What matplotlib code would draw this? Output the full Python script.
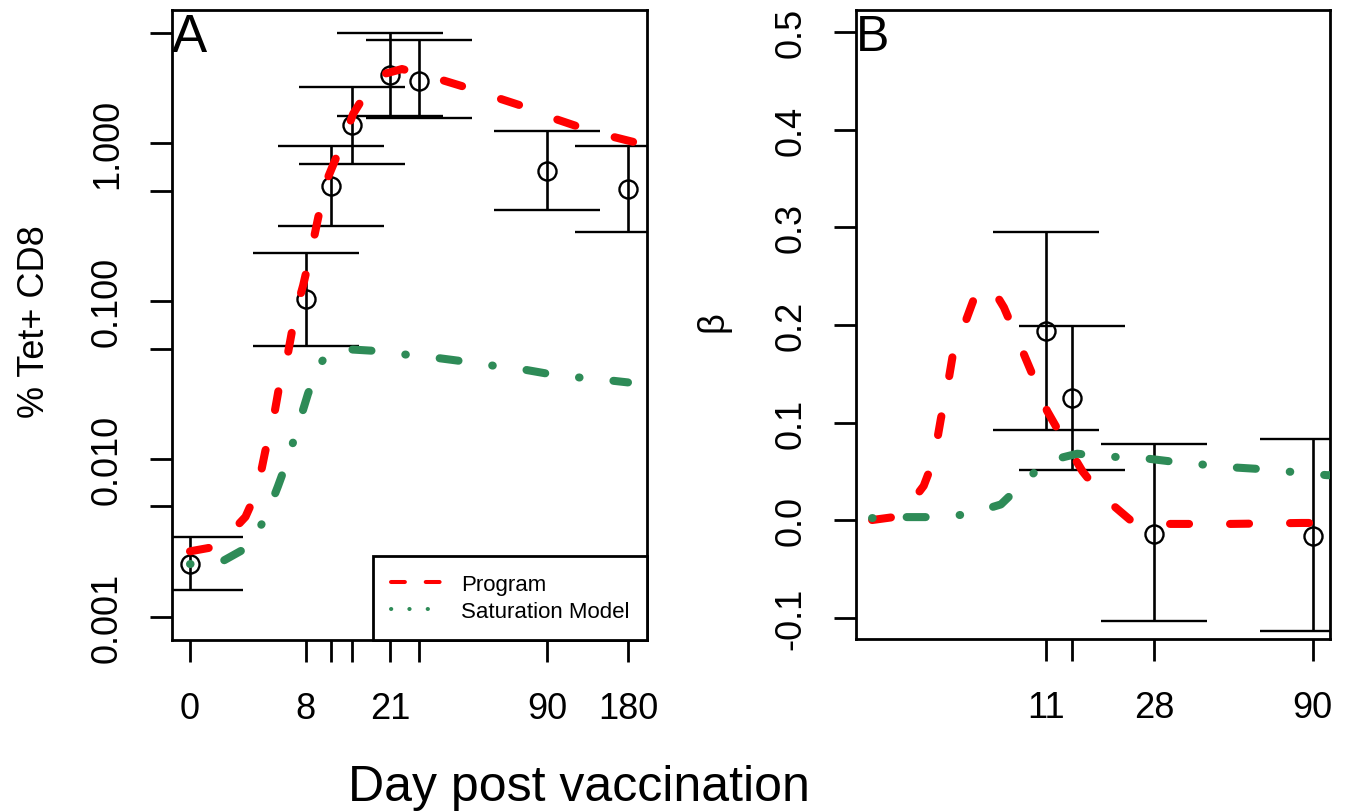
import numpy as np
import matplotlib.pyplot as plt
from matplotlib.lines import Line2D

plt.rcParams['font.family'] = ['Liberation Sans', 'DejaVu Sans']
plt.rcParams['lines.scale_dashes'] = False

# Panel A observations (% Tet+ CD8)
obs_a_day = [0, 8, 11, 14, 21, 28, 90, 180]
obs_a_mean = [0.00216, 0.103, 0.535, 1.30, 2.69, 2.47, 0.665, 0.512]
obs_a_lo = [0.00148, 0.0519, 0.298, 0.736, 1.48, 1.44, 0.377, 0.273]
obs_a_hi = [0.00321, 0.201, 0.957, 2.26, 4.97, 4.49, 1.19, 0.957]

# Panel A model curves
prog_a_day = [0, 1.3, 2.9, 3.7, 4.3, 4.9, 5.5, 6.2, 6.9, 7.7, 8.7, 9.4, 10.5, 12.2,
              14.2, 17.0, 20.0, 23.7, 31.7, 43.3, 55.3, 72.8, 89.8, 116, 144, 200]
prog_a_val = [0.0026, 0.0028, 0.0043, 0.0063, 0.0112, 0.0171, 0.0307, 0.0462, 0.083,
              0.125, 0.223, 0.34, 0.59, 0.92, 1.53, 2.26, 2.75, 2.94, 2.62, 2.26, 1.98,
              1.71, 1.48, 1.28, 1.14, 0.99]
sat_a_day = [0, 1.56, 3.06, 4.36, 5.32, 6.21, 7.17, 8.22, 9.36, 10.5, 12.5, 18.0, 23.2,
             33.3, 44.5, 56.8, 74.8, 96.3, 122.6, 159.8, 180]
sat_a_val = [0.00216, 0.00226, 0.00277, 0.0043, 0.0067, 0.0100, 0.0160, 0.0258, 0.0382,
             0.046, 0.0497, 0.0483, 0.0462, 0.0436, 0.0411, 0.0388, 0.0366, 0.0340,
             0.0326, 0.0312, 0.0305]

# Panel B observations (beta)
obs_b_day = [11, 14, 28, 90]
obs_b_mean = [0.194, 0.125, -0.014, -0.016]
obs_b_lo = [0.092, 0.051, -0.104, -0.114]
obs_b_hi = [0.295, 0.199, 0.078, 0.083]

# Panel B model curves
prog_b_day = [0, 1.06, 2.06, 2.55, 2.92, 3.24, 3.64, 4.37, 5.0, 5.6, 6.2, 7.07, 8.53,
              9.57, 11.1, 12.8, 15.4, 18.2, 23.3, 29.6, 50, 83.4, 90]
prog_b_val = [0.0, 0.004, 0.035, 0.062, 0.104, 0.133, 0.176, 0.205, 0.232, 0.240, 0.237,
              0.218, 0.177, 0.150, 0.112, 0.085, 0.050, 0.025, -0.001, -0.004, -0.004,
              -0.003, -0.003]
sat_b_day = [0, 1.30, 2.71, 4.55, 6.83, 8.63, 11, 14.7, 18.9, 24.8, 32.0, 40.2, 50.7,
             64.0, 79.4, 99.6, 102]
sat_b_val = [0.002, 0.003, 0.003, 0.006, 0.016, 0.037, 0.060, 0.068, 0.065, 0.064, 0.060,
             0.057, 0.054, 0.052, 0.049, 0.046, 0.046]

# axis ticks
a_xticks = [0, 8, 11, 14, 21, 28, 90, 180]
a_xlabels = ['0', '8', '', '', '21', '', '90', '180']
a_yticks = [0.001, 0.005, 0.01, 0.05, 0.1, 0.5, 1, 5]
a_ylabels = ['0.001', '', '0.010', '', '0.100', '', '1.000', '']
b_xticks = [11, 14, 28, 90]
b_xlabels = ['11', '', '28', '90']
b_yticks = [-0.1, 0.0, 0.1, 0.2, 0.3, 0.4, 0.5]
b_ylabels = ['-0.1', '0.0', '0.1', '0.2', '0.3', '0.4', '0.5']


def fwd(x):
    return np.log(np.asarray(x, dtype=float) + 5.0)


def inv(y):
    return np.exp(np.asarray(y, dtype=float)) - 5.0


W, H = 1348, 812
fig = plt.figure(figsize=(W / 100, H / 100), dpi=100)


def px_axes(l, t, r, b):
    return fig.add_axes([l / W, 1 - b / H, (r - l) / W, (b - t) / H])


axA = px_axes(172, 11, 647, 641)
axB = px_axes(856, 11, 1330, 640)

red = '#FF0000'
green = '#2E8B57'
lw = 5.8
prog_ls = (0, (13.7, 29.5))
sat_ls = (0, (0.4, 24.5, 13.7, 24.5))
tick_fs = 26

for ax in (axA, axB):
    ax.set_xscale('function', functions=(fwd, inv))
    for s in ax.spines.values():
        s.set_linewidth(2)
    ax.tick_params(direction='out', length=16, width=2, labelsize=tick_fs)
    ax.tick_params(axis='y', labelrotation=90, pad=18)
    ax.tick_params(axis='x', pad=21)

# Panel A
axA.set_yscale('log')
axA.errorbar(obs_a_day, obs_a_mean,
             yerr=[np.subtract(obs_a_mean, obs_a_lo), np.subtract(obs_a_hi, obs_a_mean)],
             fmt='o', mfc='none', mec='black', ms=13, mew=1.7, ecolor='black',
             elinewidth=1.9, capsize=38, capthick=1.9, zorder=2)
axA.plot(prog_a_day, prog_a_val, color=red, lw=lw, ls=prog_ls,
         dash_capstyle='round', zorder=3)
axA.plot(sat_a_day, sat_a_val, color=green, lw=lw, ls=sat_ls,
         dash_capstyle='round', zorder=3)
axA.set_xlim(inv(1.461), inv(5.377))
axA.set_ylim(7.14e-4, 6.95)
axA.set_xticks(a_xticks)
axA.set_xticklabels(a_xlabels)
axA.set_yticks(a_yticks)
axA.set_yticklabels(a_ylabels, va='center')
axA.minorticks_off()
axA.text(0.0, 0.997, 'A', transform=axA.transAxes, ha='left', va='top', fontsize=38)

handles = [Line2D([], [], color=red, lw=2.9, ls=(0, (10, 15)), dash_capstyle='round'),
           Line2D([], [], color=green, lw=2.9, ls=(0, (0.2, 13)), dash_capstyle='round')]
leg = axA.legend(handles, ['Program', 'Saturation Model'], loc='lower right',
                 bbox_to_anchor=(1, 0), borderaxespad=0, fontsize=16, frameon=True,
                 fancybox=False, edgecolor='black', handlelength=2.25,
                 handletextpad=0.9, borderpad=0.8, labelspacing=0.3)
leg.get_frame().set_linewidth(2)
leg.get_frame().set_alpha(1)

# Panel B
axB.errorbar(obs_b_day, obs_b_mean,
             yerr=[np.subtract(obs_b_mean, obs_b_lo), np.subtract(obs_b_hi, obs_b_mean)],
             fmt='o', mfc='none', mec='black', ms=13, mew=1.7, ecolor='black',
             elinewidth=1.9, capsize=38, capthick=1.9, zorder=2)
axB.plot(prog_b_day, prog_b_val, color=red, lw=lw, ls=prog_ls,
         dash_capstyle='round', zorder=3)
axB.plot(sat_b_day, sat_b_val, color=green, lw=lw, ls=sat_ls,
         dash_capstyle='round', zorder=3)
axB.set_xlim(inv(1.502), inv(4.670))
axB.set_ylim(-0.122, 0.523)
axB.set_xticks(b_xticks)
axB.set_xticklabels(b_xlabels)
axB.set_yticks(b_yticks)
axB.set_yticklabels(b_ylabels, va='center')
axB.minorticks_off()
axB.text(0.0, 0.993, 'B', transform=axB.transAxes, ha='left', va='top', fontsize=36)

fig.text(35 / W, 1 - 322 / H, '% Tet+ CD8', rotation=90, ha='center', va='center',
         fontsize=26)
fig.text(713 / W, 1 - 322 / H, 'β', rotation=90, ha='center', va='center', fontsize=26)
fig.text(579 / W, 1 - 788 / H, 'Day post vaccination', ha='center', va='center',
         fontsize=36)

fig.savefig('out.png', dpi=100)
